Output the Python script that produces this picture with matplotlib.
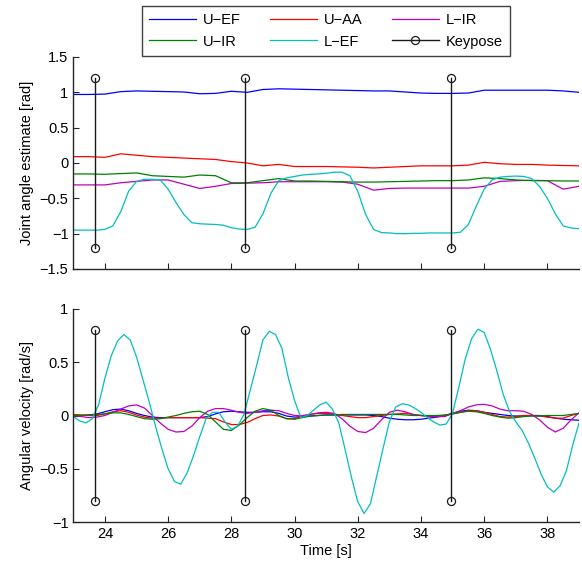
import matplotlib
matplotlib.use("Agg")
import matplotlib.pyplot as plt
import numpy as np

plt.rcParams["font.family"] = ["Liberation Sans", "DejaVu Sans"]
plt.rcParams["font.size"] = 10

# time axes (s)
t_q = np.arange(23.0, 39.001, 0.25)      # angle traces, L-EF
t_q_slow = np.arange(23.0, 39.001, 0.5)  # angle traces, slow joints
t_w = np.arange(23.0, 39.001, 0.25)      # velocity, small joints
t_w_fast = np.arange(23.0, 39.001, 0.2)  # velocity, L-EF

keypose_t = [23.7, 28.42, 34.95]
keypose_q = [-1.2, 1.2]
keypose_w = [-0.8, 0.8]

# joint angle estimates [rad]
q_uef = [0.97, 0.97, 0.975, 1.01, 1.02, 1.015, 1.01, 1.005, 0.98, 0.985, 1.015,
         1.0, 1.04, 1.05, 1.045, 1.04, 1.035, 1.03, 1.025, 1.02, 1.02, 1.005,
         0.99, 0.985, 0.985, 0.99, 1.03, 1.03, 1.03, 1.03, 1.03, 1.02, 1.0]
q_uaa = [0.09, 0.09, 0.08, 0.13, 0.11, 0.09, 0.08, 0.07, 0.06, 0.05, 0.02, 0.0,
         -0.04, -0.02, -0.05, -0.05, -0.05, -0.055, -0.06, -0.07, -0.06, -0.05,
         -0.04, -0.04, -0.04, -0.03, 0.01, -0.01, -0.02, -0.02, -0.03, -0.035, -0.04]
q_uir = [-0.155, -0.155, -0.16, -0.15, -0.14, -0.18, -0.19, -0.2, -0.17, -0.18,
         -0.28, -0.28, -0.25, -0.22, -0.255, -0.255, -0.26, -0.265, -0.27, -0.27,
         -0.265, -0.26, -0.255, -0.25, -0.25, -0.24, -0.21, -0.22, -0.24, -0.25,
         -0.25, -0.255, -0.255]
q_lir = [-0.31, -0.31, -0.31, -0.28, -0.26, -0.24, -0.24, -0.30, -0.36, -0.33,
         -0.29, -0.285, -0.28, -0.265, -0.265, -0.265, -0.265, -0.27, -0.3, -0.385,
         -0.36, -0.355, -0.355, -0.355, -0.355, -0.355, -0.33, -0.26, -0.25, -0.245,
         -0.25, -0.37, -0.33]
q_lef = [-0.95, -0.95, -0.95, -0.95, -0.94, -0.89, -0.69, -0.40, -0.26, -0.23,
         -0.23, -0.24, -0.37, -0.56, -0.73, -0.845, -0.86, -0.865, -0.87, -0.88,
         -0.915, -0.935, -0.94, -0.91, -0.72, -0.43, -0.25, -0.21, -0.19, -0.17,
         -0.16, -0.155, -0.145, -0.13, -0.13, -0.18, -0.40, -0.73, -0.94, -0.985,
         -0.99, -1.0, -1.0, -0.995, -0.995, -0.99, -0.99, -0.99, -0.99, -0.98,
         -0.87, -0.61, -0.37, -0.24, -0.2, -0.19, -0.185, -0.19, -0.22, -0.33,
         -0.50, -0.72, -0.89, -0.92, -0.93]

# angular velocities [rad/s]
w_uef = [0.0, 0.0, 0.005, 0.015, 0.035, 0.055, 0.06, 0.045, 0.02, 0.0, -0.015,
         -0.02, -0.02, -0.02, -0.02, -0.02, -0.02, -0.01, 0.015, 0.035, 0.04, 0.035,
         0.03, 0.03, 0.035, 0.035, 0.02, -0.005, -0.015, -0.01, -0.005, 0.0, 0.005,
         0.005, 0.005, 0.005, 0.005, 0.005, 0.0, -0.01, -0.025, -0.035, -0.04, -0.04,
         -0.035, -0.025, -0.015, 0.0, 0.02, 0.04, 0.05, 0.045, 0.03, 0.02, 0.01, 0.0,
         -0.005, -0.005, 0.0, 0.0, -0.01, -0.025, -0.035, -0.04, -0.045]
w_uaa = [0.01, 0.005, 0.0, 0.0, 0.015, 0.035, 0.045, 0.03, 0.005, -0.015, -0.025,
         -0.025, -0.02, -0.02, -0.02, -0.02, -0.02, -0.025, -0.03, -0.06, -0.085,
         -0.085, -0.065, -0.03, 0.0, 0.005, -0.005, -0.03, -0.03, -0.005, 0.01, 0.02,
         0.02, 0.015, 0.0, -0.01, -0.02, -0.02, -0.01, 0.0, 0.01, 0.015, 0.02, 0.01,
         0.0, -0.01, -0.01, 0.0, 0.015, 0.03, 0.045, 0.045, 0.03, 0.01, -0.01, -0.015,
         -0.01, 0.0, 0.0, -0.005, -0.015, -0.025, -0.025, 0.0, 0.02]
w_uir = [0.0, 0.0, 0.005, 0.01, 0.015, 0.025, 0.025, 0.01, -0.01, -0.03, -0.035,
         -0.03, -0.015, 0.0, 0.02, 0.035, 0.04, 0.01, -0.06, -0.13, -0.14, -0.09,
         -0.02, 0.04, 0.065, 0.05, 0.0, -0.03, -0.035, -0.02, -0.005, 0.0, 0.005,
         0.005, 0.01, 0.01, 0.01, 0.01, 0.01, 0.01, 0.01, 0.01, 0.005, 0.0, 0.0, 0.0,
         0.0, 0.005, 0.015, 0.03, 0.04, 0.035, 0.02, 0.0, -0.015, -0.025, -0.02,
         -0.01, -0.005, -0.005, 0.0, 0.0, 0.0, 0.01, 0.02]
w_lir = [0.0, -0.01, -0.02, -0.015, 0.0, 0.03, 0.06, 0.09, 0.10, 0.07, 0.0, -0.07,
         -0.13, -0.155, -0.15, -0.10, -0.02, 0.04, 0.065, 0.065, 0.05, 0.03, 0.02,
         0.03, 0.045, 0.05, 0.045, 0.02, 0.0, 0.0, 0.01, 0.025, 0.03, 0.02, -0.03,
         -0.10, -0.15, -0.16, -0.12, -0.04, 0.03, 0.05, 0.035, 0.01, 0.0, -0.005,
         -0.01, -0.01, 0.02, 0.045, 0.08, 0.10, 0.105, 0.09, 0.06, 0.045, 0.045, 0.04,
         0.01, -0.04, -0.11, -0.155, -0.12, -0.04, 0.025]
w_lef = [-0.01, -0.05, -0.07, -0.03, 0.1, 0.35, 0.56, 0.70, 0.76, 0.71, 0.55, 0.34,
         0.13, -0.10, -0.31, -0.50, -0.62, -0.645, -0.54, -0.38, -0.20, -0.03, 0.03,
         0.03, -0.06, -0.13, -0.10, 0.01, 0.24, 0.47, 0.71, 0.79, 0.76, 0.63, 0.36,
         0.14, -0.02, 0.0, 0.05, 0.10, 0.125, 0.06, -0.07, -0.32, -0.58, -0.81, -0.92,
         -0.83, -0.57, -0.31, -0.06, 0.08, 0.11, 0.10, 0.07, 0.03, -0.02, -0.06, -0.09,
         -0.08, 0.02, 0.27, 0.53, 0.72, 0.81, 0.78, 0.62, 0.42, 0.20, 0.04, -0.06,
         -0.14, -0.26, -0.40, -0.55, -0.67, -0.72, -0.66, -0.52, -0.28, -0.07]

C_UEF = (0, 0, 1)
C_UIR = (0, 0.5, 0)
C_UAA = (1, 0, 0)
C_LEF = (0, 0.75, 0.75)
C_LIR = (0.75, 0, 0.75)
LW = 0.9

W, H = 582, 565
fig = plt.figure(figsize=(W / 100, H / 100), dpi=100)
ax1 = fig.add_axes([73.3 / W, 1 - 269 / H, 505.7 / W, 212 / H])
ax2 = fig.add_axes([73.3 / W, 1 - 522 / H, 505.7 / W, 213 / H])


def keypose(ax, ylim):
    h = None
    for tk in keypose_t:
        h, = ax.plot([tk, tk], ylim, color="0.1", lw=1.0, marker="o",
                     markersize=5.8, markerfacecolor="none", markeredgecolor="0.1",
                     markeredgewidth=0.9)
    return h


h_uef, = ax1.plot(t_q_slow, q_uef, color=C_UEF, lw=LW)
h_uaa, = ax1.plot(t_q_slow, q_uaa, color=C_UAA, lw=LW)
h_lir, = ax1.plot(t_q_slow, q_lir, color=C_LIR, lw=LW)
h_uir, = ax1.plot(t_q_slow, q_uir, color=C_UIR, lw=LW)
h_lef, = ax1.plot(t_q, q_lef, color=C_LEF, lw=LW)
h_key = keypose(ax1, keypose_q)

ax2.plot(t_w, w_uef, color=C_UEF, lw=LW)
ax2.plot(t_w, w_uaa, color=C_UAA, lw=LW)
ax2.plot(t_w, w_lir, color=C_LIR, lw=LW)
ax2.plot(t_w, w_uir, color=C_UIR, lw=LW)
ax2.plot(t_w_fast, w_lef, color=C_LEF, lw=LW)
keypose(ax2, keypose_w)

for ax in (ax1, ax2):
    ax.set_xlim(23, 39)
    ax.set_xticks(np.arange(24, 39, 2))
    for s in ("top", "right"):
        ax.spines[s].set_visible(False)
    for s in ("left", "bottom"):
        ax.spines[s].set_linewidth(1.0)
        ax.spines[s].set_color("0.15")
    ax.tick_params(direction="in", length=4, width=0.8, colors="0.15",
                   labelcolor="black", labelsize=10.5)

ax1.set_ylim(-1.5, 1.5)
ax1.set_yticks(np.arange(-1.5, 1.51, 0.5))
ax1.set_yticklabels(["\u22121.5", "\u22121", "\u22120.5", "0", "0.5", "1", "1.5"])
ax1.tick_params(labelbottom=False)
ax1.set_ylabel("Joint angle estimate [rad]", fontsize=10.5, labelpad=4)

ax2.set_ylim(-1, 1)
ax2.set_yticks([-1, -0.5, 0, 0.5, 1])
ax2.set_yticklabels(["\u22121", "\u22120.5", "0", "0.5", "1"])
ax2.set_ylabel("Angular velocity [rad/s]", fontsize=10.5, labelpad=4)
ax2.set_xlabel("Time [s]", fontsize=10.5, labelpad=2)

handles = [h_uef, h_uir, h_uaa, h_lef, h_lir, h_key]
labels = ["U\u2212EF", "U\u2212IR", "U\u2212AA", "L\u2212EF", "L\u2212IR", "Keypose"]
leg = fig.legend(handles, labels, ncol=3, loc="upper center",
                 bbox_to_anchor=(326 / W, 1 - 6 / H), fontsize=10.5,
                 fancybox=False, framealpha=1, edgecolor="0.25",
                 handlelength=3.2, handletextpad=0.5, columnspacing=2.0,
                 labelspacing=0.5, borderpad=0.5, borderaxespad=0)
leg.get_frame().set_linewidth(1.0)

fig.savefig("out.png", dpi=100)
